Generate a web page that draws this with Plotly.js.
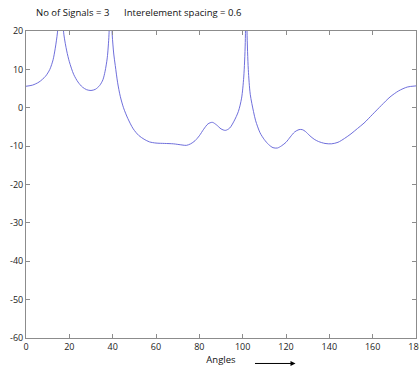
<!DOCTYPE html>
<html>
<head>
<meta charset="utf-8">
<script src="https://cdn.plot.ly/plotly-3.0.1.min.js"></script>
<style>html,body{margin:0;padding:0;background:#fff;}#chart{width:419px;height:367px;}</style>
</head>
<body>
<div id="chart"></div>
<script>
// Angles (degrees)
const angles = [0,3,6,9,11,12.5,13.5,14.5,15.3,15.8,16.5,17.5,18.8,20,22,24,26,28,30,32,34,35.5,36.5,37.5,38.3,38.8,39.2,39.8,40.5,41.2,42.3,43.5,45,47,49.5,52,54.5,57,60,64,68,72,74,76,78,80,82,84,86,88,90,92,94,96,98,99.5,100.5,101.2,101.6,102,102.6,103.5,105,106,108,110,112,114,116,118,120,122,124,126,127.5,129,131,133,135,138,141,144,147,150,153,156,160,164,168,172,176,180];
// Spectrum (dB)
const spectrum = [5.6,5.9,6.7,8.2,10.0,12.5,15.5,19.5,25,35,26,19,14.8,12,8.7,6.7,5.4,4.7,4.5,4.8,5.8,7.3,9.5,13,19,30,28,19,14,11,6.5,3,0,-2.8,-5.5,-7.2,-8.2,-8.9,-9.2,-9.3,-9.4,-9.7,-9.8,-9.4,-8.6,-7.3,-5.6,-4.2,-3.8,-4.5,-5.5,-5.9,-5.3,-3.5,-1,2.5,8,17,40,20,10,3.5,-1,-3.4,-6.5,-8.3,-9.6,-10.4,-10.5,-9.9,-9,-7.6,-6.3,-5.7,-5.7,-6.2,-7.3,-8.2,-8.8,-9.3,-9.4,-9,-8,-6.8,-5.4,-4,-1.7,0.6,2.8,4.4,5.4,5.7];
const xTicks = [0,20,40,60,80,100,120,140,160,180];
const yTicks = [-60,-50,-40,-30,-20,-10,0,10,20];
const titleText = 'No of Signals = 3\u00a0\u00a0\u00a0\u00a0\u00a0\u00a0Interelement spacing = 0.6';

const FONT = 'Open Sans, sans-serif';
const axisCommon = {
  showgrid: false, zeroline: false, showline: true, linecolor: '#8c8c8c', linewidth: 1,
  mirror: 'ticks', ticks: 'inside', ticklen: 4, tickcolor: '#8c8c8c', tickwidth: 1,
  ticklabeloverflow: 'allow',
  tickfont: {family: FONT, size: 9, color: '#222'}, automargin: false
};

const trace = {
  x: angles, y: spectrum, type: 'scatter', mode: 'lines',
  line: {color: 'rgb(95,95,215)', width: 0.9, shape: 'spline', smoothing: 0.8},
  hoverinfo: 'skip'
};

const layout = {
  width: 419, height: 367,
  margin: {l: 26, r: 3, t: 31, b: 29, pad: 0},
  paper_bgcolor: '#fff', plot_bgcolor: '#fff',
  showlegend: false,
  title: {text: titleText, x: 36/419, xanchor: 'left', xref: 'container', y: 1 - 13/367, yanchor: 'middle', yref: 'container',
          font: {family: FONT, size: 9.5, color: '#111'}},
  xaxis: Object.assign({}, axisCommon, {range: [0, 180], tickvals: xTicks, ticktext: xTicks.map(String),
          title: {text: 'Angles', standoff: 1, font: {family: FONT, size: 9.5, color: '#111'}}}),
  yaxis: Object.assign({}, axisCommon, {range: [-60, 20], tickvals: yTicks, ticktext: yTicks.map(String)}),
  annotations: [{
    xref: 'paper', yref: 'paper', x: 0.691, y: -0.083, ax: -42, ay: 0, text: '',
    showarrow: true, arrowhead: 2, arrowsize: 1, arrowwidth: 1, arrowcolor: '#000'
  }]
};

Plotly.newPlot('chart', [trace], layout, {displayModeBar: false, staticPlot: true});
</script>
</body>
</html>
